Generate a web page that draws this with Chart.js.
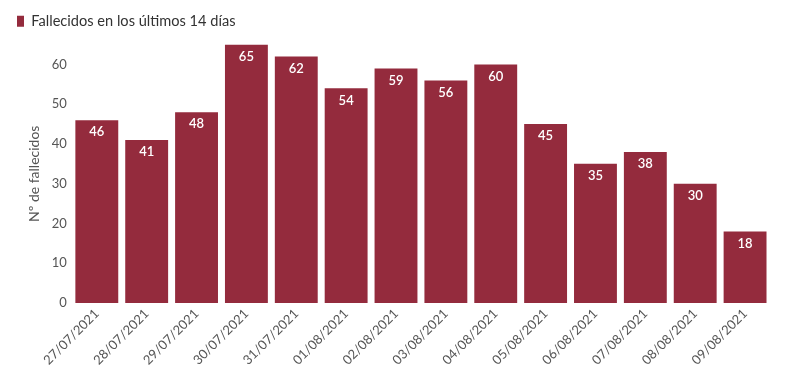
<!DOCTYPE html>
<html><head><meta charset="utf-8">
<script src="https://cdn.jsdelivr.net/npm/chart.js@4/dist/chart.umd.min.js"></script>
<style>html,body{margin:0;padding:0;background:#fff}#w{width:801px;height:371px}</style>
</head><body><div id="w"><canvas id="c"></canvas></div>
<script>
const categories = ["27/07/2021","28/07/2021","29/07/2021","30/07/2021","31/07/2021","01/08/2021","02/08/2021","03/08/2021","04/08/2021","05/08/2021","06/08/2021","07/08/2021","08/08/2021","09/08/2021"];
const deaths = [46,41,48,65,62,54,59,56,60,45,35,38,30,18];
const seriesName = "Fallecidos en los últimos 14 días";
const yTitle = "Nº de fallecidos";

const labelPlugin = {
  id: 'barLabels',
  afterDatasetsDraw(chart) {
    const ctx = chart.ctx;
    const meta = chart.getDatasetMeta(0);
    ctx.save();
    ctx.fillStyle = '#fff';
    ctx.font = '600 13px Lato, "Open Sans", sans-serif';
    ctx.textAlign = 'center';
    ctx.textBaseline = 'middle';
    meta.data.forEach((bar, i) => {
      ctx.fillText(String(chart.data.datasets[0].data[i]), bar.x, bar.y + 12);
    });
    ctx.restore();
  }
};

const legendGap = {
  id: 'legendGap',
  beforeInit(chart) {
    const orig = chart.legend.fit;
    chart.legend.fit = function () { orig.bind(chart.legend)(); this.height += 6; };
  }
};

Chart.defaults.font.family = 'Lato, "Open Sans", sans-serif';
Chart.defaults.color = '#555';

new Chart(document.getElementById('c'), {
  type: 'bar',
  data: {
    labels: categories,
    datasets: [{
      label: seriesName,
      data: deaths,
      backgroundColor: '#942b3d',
      borderWidth: 0,
      barPercentage: 0.86,
      categoryPercentage: 1.0
    }]
  },
  options: {
    responsive: true,
    maintainAspectRatio: false,
    animation: false,
    layout: { padding: { left: 7, right: 31, top: 4, bottom: 0 } },
    plugins: {
      legend: {
        position: 'top',
        align: 'start',
        labels: { boxWidth: 7, boxHeight: 11, font: { size: 14.6 }, color: '#333', padding: 10 }
      },
      tooltip: { enabled: false }
    },
    scales: {
      x: {
        grid: { display: false, drawTicks: false },
        border: { display: false },
        ticks: { maxRotation: 45, minRotation: 45, font: { size: 13 }, color: '#555', padding: 3 }
      },
      y: {
        min: 0, max: 65,
        afterBuildTicks: (axis) => { axis.ticks = axis.ticks.filter(t => t.value % 10 === 0); },
        grid: { display: false, drawTicks: false },
        border: { display: false },
        ticks: { stepSize: 10, font: { size: 13 }, color: '#555', padding: 5 },
        title: { display: true, text: yTitle, font: { size: 14 }, color: '#555', padding: { top: 19, bottom: 4 } }
      }
    }
  },
  plugins: [labelPlugin, legendGap]
});
</script></body></html>
